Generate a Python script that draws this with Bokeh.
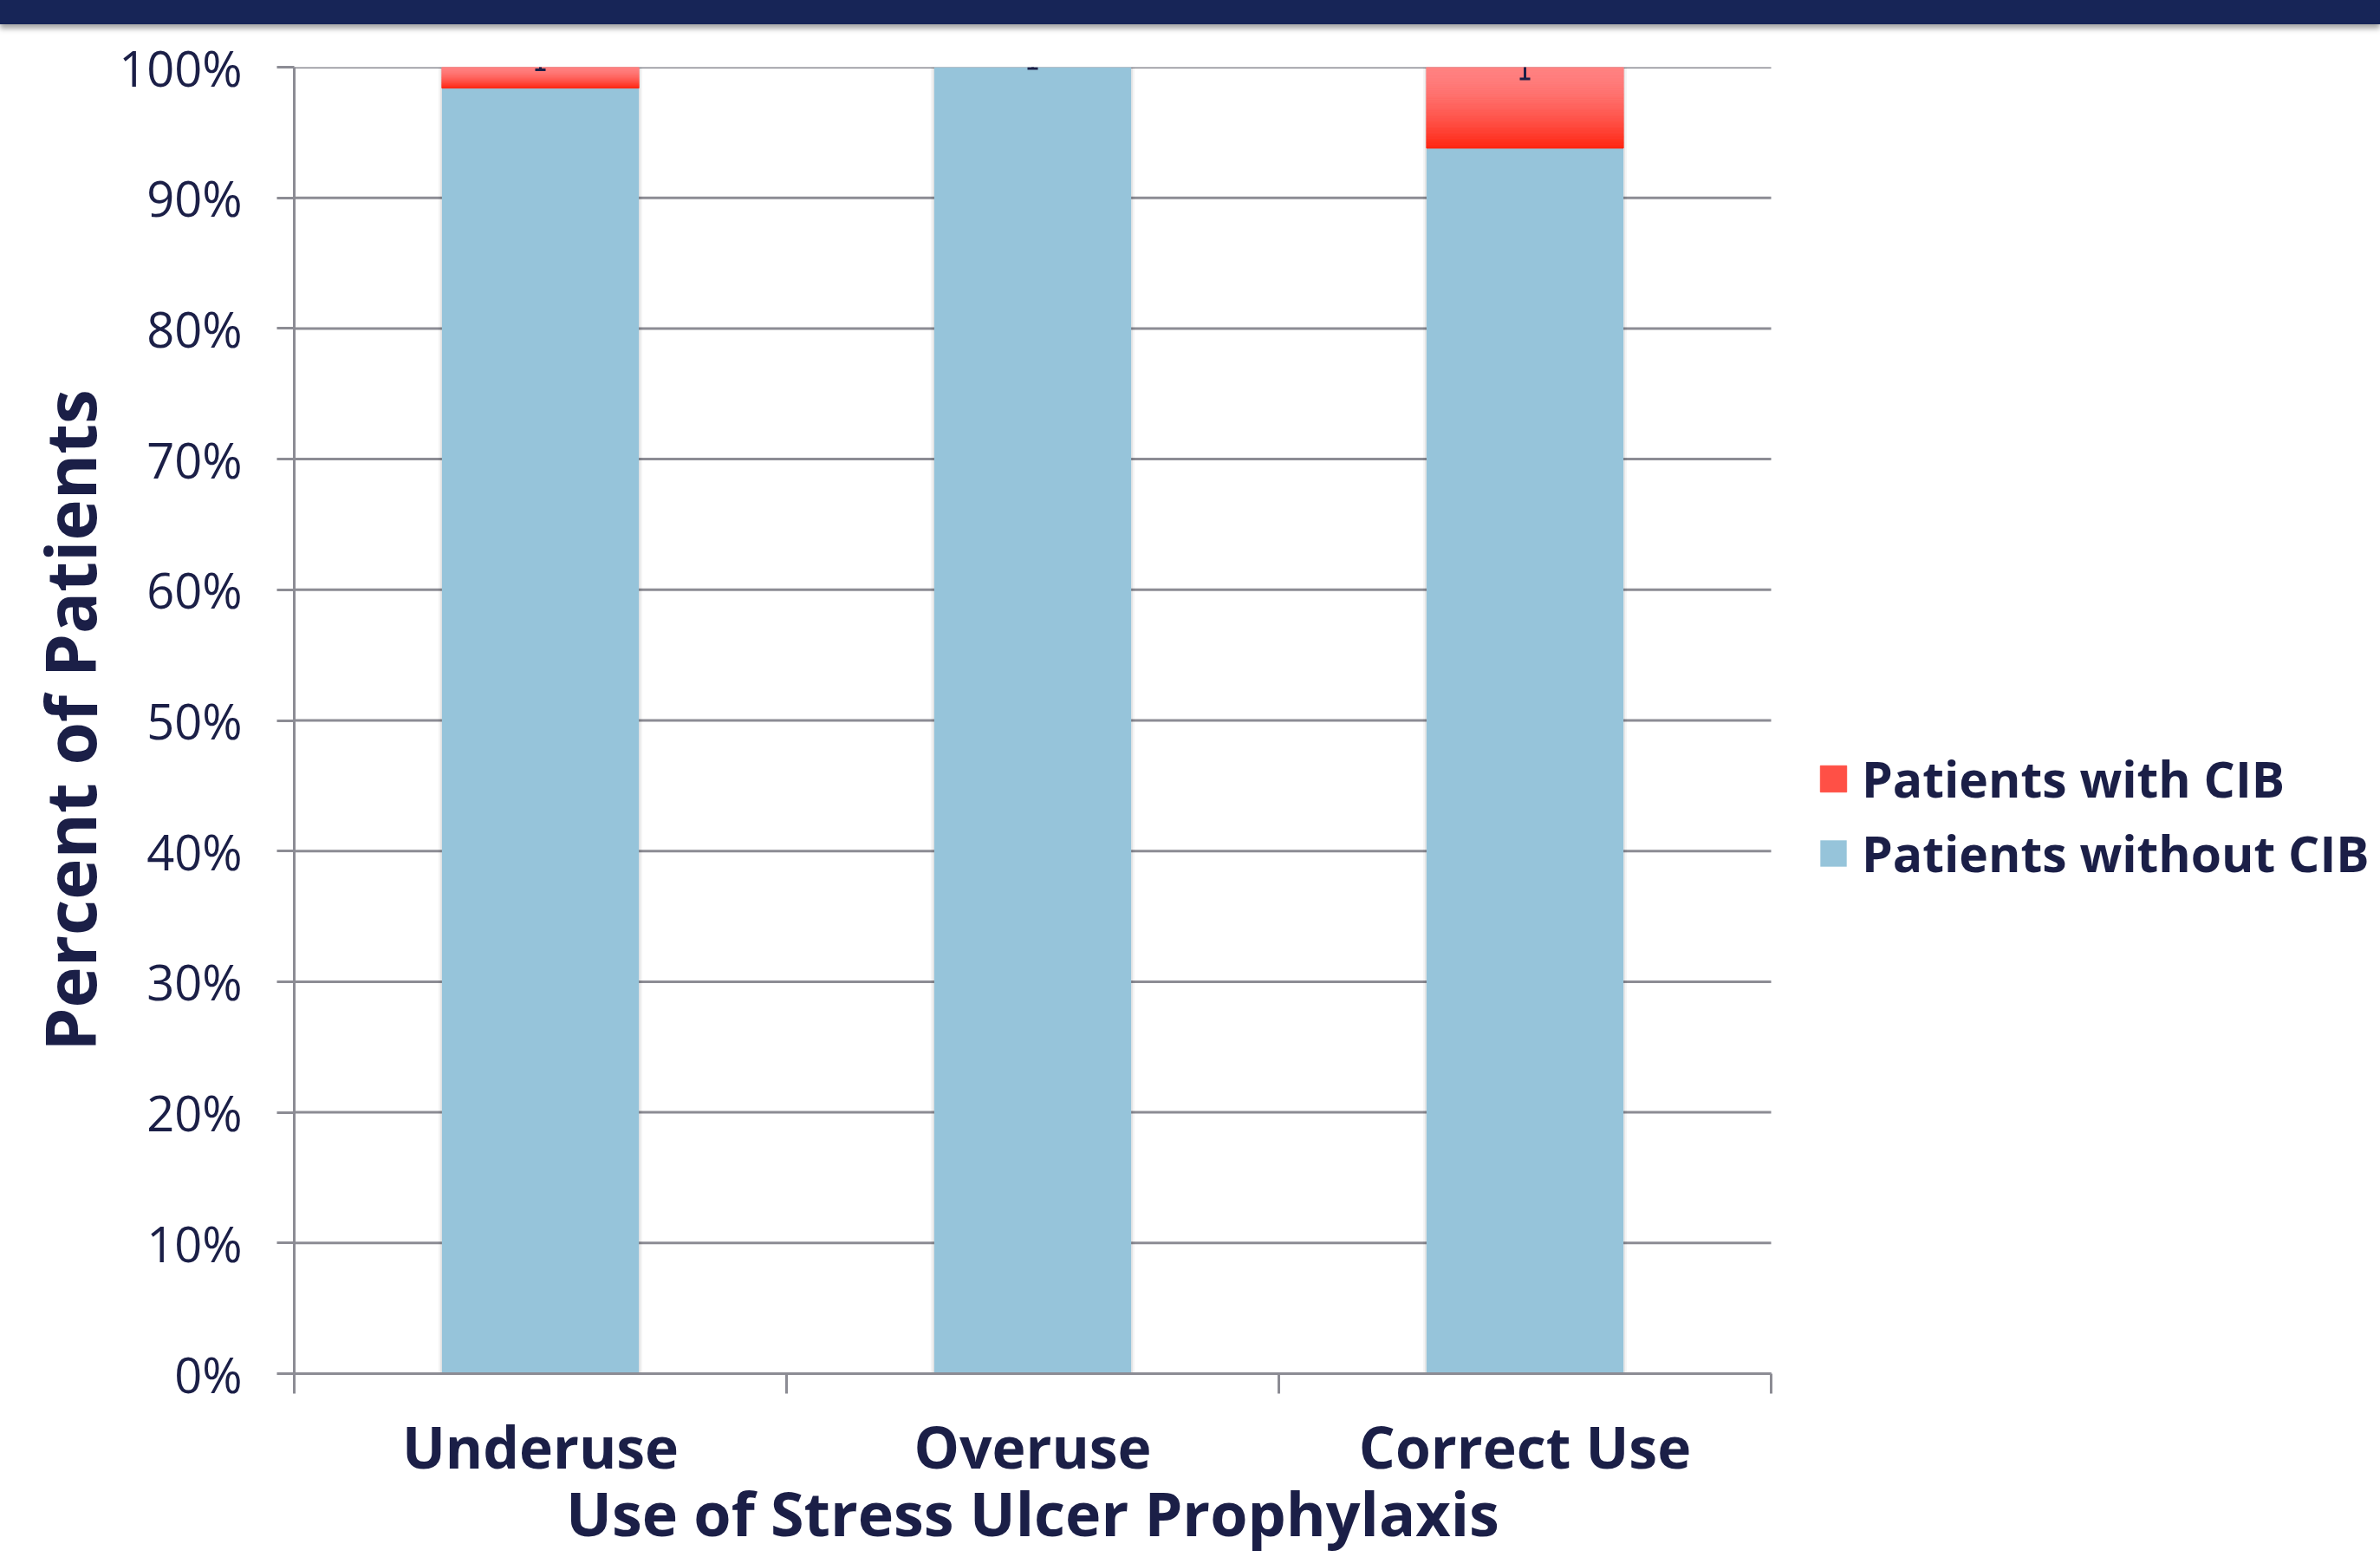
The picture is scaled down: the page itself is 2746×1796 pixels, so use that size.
from bokeh.plotting import figure
from bokeh.models import (Range1d, LinearAxis, FixedTicker, Legend, LegendItem, Div)
from bokeh.layouts import column
from bokeh.embed import file_html
from bokeh.resources import INLINE

# ---------------- data ----------------
categories = ["Underuse", "Overuse", "Correct Use"]
without_cib = [98.4, 100.0, 93.8]
with_cib = [1.6, 0.0, 6.2]
err_cib = [0.2, 0.1, 0.9]
y_ticks = [0, 10, 20, 30, 40, 50, 60, 70, 80, 90, 100]
series_names = ["Patients with CIB", "Patients without CIB"]
x_title = "Use of Stress Ulcer Prophylaxis"
y_title = "Percent of Patients"

# ---------------- style / layout ----------------
W, H = 2746, 1796
BAND = 28
LEFT = 339            # left border (px)
PLOT_W = 1704         # width used by the category area (px)
TEXT = "#1b1f47"
GRID = "#8c8c94"
BLUE = "#96c4da"
FONT = "Open Sans"
RED_TOP = (255, 128, 128)
RED_BOT = (255, 36, 16)
BAR_W = 0.4

ncat = len(categories)
xpos = [i + 0.5 for i in range(ncat)]          # category centres on a 0..n scale
# frame spans to the right edge; categories occupy the first PLOT_W px of it
x_end = ncat * (W - LEFT) / PLOT_W

p = figure(width=W, height=H - BAND,
           x_range=Range1d(0, x_end), y_range=Range1d(0, 100),
           x_axis_location=None, y_axis_location="left",
           output_backend="svg", toolbar_location=None,
           min_border_left=LEFT, min_border_right=0,
           min_border_top=49, min_border_bottom=212)
p.outline_line_color = None
p.background_fill_color = "white"
p.border_fill_color = "white"
p.xgrid.visible = False
p.ygrid.visible = False

# y axis
ya = p.yaxis[0]
ya.ticker = FixedTicker(ticks=y_ticks)
ya.major_label_overrides = {t: f"{t}%" for t in y_ticks}
ya.major_label_text_font = FONT
ya.major_label_text_font_size = "56px"
ya.major_label_text_color = TEXT
ya.major_label_standoff = 40
ya.major_tick_out = 20
ya.major_tick_in = 0
ya.minor_tick_line_color = None
ya.major_tick_line_color = GRID
ya.major_tick_line_width = 3
ya.axis_line_color = GRID
ya.axis_line_width = 3
ya.axis_label = y_title
ya.axis_label_text_font = FONT
ya.axis_label_text_font_style = "bold"
ya.axis_label_text_font_size = "80px"
ya.axis_label_text_color = TEXT
ya.axis_label_standoff = 0

# horizontal gridlines limited to the category area
p.segment(x0=[0] * len(y_ticks), x1=[ncat] * len(y_ticks), y0=y_ticks, y1=y_ticks,
          line_color=GRID, line_width=3)

# boundary ticks axis (Excel-style ticks between categories)
tick_axis = LinearAxis(ticker=FixedTicker(ticks=list(range(ncat + 1))), bounds=(0, ncat),
                       major_label_text_font_size="0px", major_label_standoff=0,
                       major_label_text_color=None,
                       major_tick_out=23, major_tick_in=0,
                       minor_tick_line_color=None,
                       major_tick_line_color=GRID, major_tick_line_width=3,
                       axis_line_color=GRID, axis_line_width=3)
p.add_layout(tick_axis, "below")

# category labels
cat_axis = LinearAxis(ticker=FixedTicker(ticks=xpos), bounds=(0, ncat),
                      major_label_overrides={x: c for x, c in zip(xpos, categories)},
                      major_tick_line_color=None, major_tick_out=0, major_tick_in=0,
                      minor_tick_line_color=None, minor_tick_out=0, minor_tick_in=0,
                      axis_line_color=None,
                      major_label_text_font=FONT,
                      major_label_text_font_style="bold",
                      major_label_text_font_size="66px",
                      major_label_text_color=TEXT,
                      major_label_standoff=15)
p.add_layout(cat_axis, "below")

# x-axis title, centred under the category area
title_axis = LinearAxis(ticker=FixedTicker(ticks=[ncat / 2]), bounds=(0, ncat),
                        major_label_overrides={ncat / 2: x_title},
                        major_tick_line_color=None, major_tick_out=0, major_tick_in=0,
                        minor_tick_line_color=None, minor_tick_out=0, minor_tick_in=0,
                        axis_line_color=None,
                        major_label_text_font=FONT,
                        major_label_text_font_style="bold",
                        major_label_text_font_size="70px",
                        major_label_text_color=TEXT,
                        major_label_standoff=-19)
p.add_layout(title_axis, "below")

# soft shadows around bars
tops = [a + b for a, b in zip(without_cib, with_cib)]
for extra, alpha in [(8 / 568, 0.04), (4 / 568, 0.06)]:
    p.vbar(x=xpos, top=tops, bottom=0, width=BAR_W + extra,
           fill_color="black", fill_alpha=alpha, line_color=None)

# blue stack
r_without = p.vbar(x=xpos, top=without_cib, bottom=0, width=BAR_W,
                   fill_color=BLUE, line_color=None)

# red stack with vertical gradient (split into slices)
N = 40
gx, gb, gt, gc = [], [], [], []
for xc, base, h in zip(xpos, without_cib, with_cib):
    if h <= 0:
        continue
    for k in range(N):
        y0 = base + h * k / N
        y1 = base + h * (k + 1) / N
        f = 1 - (k + 0.5) / N          # 0 at top, 1 at bottom
        f = f ** 1.6
        c = tuple(int(round(RED_TOP[j] + (RED_BOT[j] - RED_TOP[j]) * f)) for j in range(3))
        gx.append(xc); gb.append(y0); gt.append(y1)
        gc.append("#%02x%02x%02x" % c)
r_with = p.vbar(x=gx, bottom=gb, top=gt, width=BAR_W, fill_color=gc, line_color=gc,
                line_width=1)

# error bars on the CIB series (top of stack)
lows = [t - e for t, e in zip(tops, err_cib)]
highs = [t + e for t, e in zip(tops, err_cib)]
p.segment(x0=xpos, y0=lows, x1=xpos, y1=highs, line_color=TEXT, line_width=3)
p.rect(x=xpos, y=lows, width=12, height=3, width_units="screen", height_units="screen",
       fill_color=TEXT, line_color=None)

# legend (inside the wide frame, right of the category area)
legend = Legend(items=[LegendItem(label=series_names[0], renderers=[r_with], index=N // 3),
                       LegendItem(label=series_names[1], renderers=[r_without])],
                location=(1757, 561),
                glyph_width=38, glyph_height=38,
                label_text_font=FONT, label_text_font_style="bold",
                label_text_font_size="57px", label_text_color=TEXT,
                label_standoff=14, spacing=8, padding=0, margin=0,
                border_line_color=None, background_fill_alpha=0)
p.add_layout(legend, "center")

band = Div(width=W, height=BAND, margin=0,
           styles={"background-color": "#172557",
                   "box-shadow": "0 5px 6px rgba(0,0,0,0.35)",
                   "z-index": "2", "position": "relative"})

layout = column(band, p, spacing=0)
open("out.html", "w").write(file_html(layout, INLINE))
